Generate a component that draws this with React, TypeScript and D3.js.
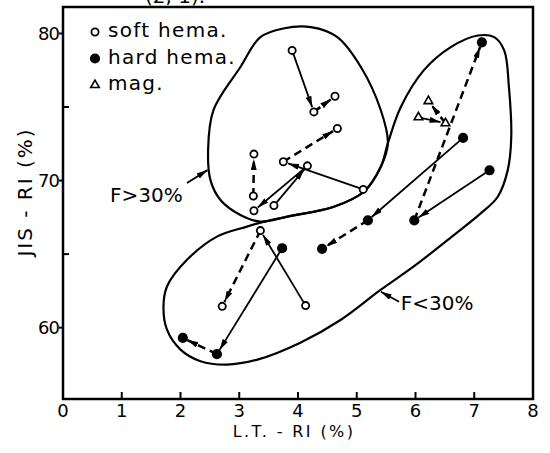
import React, { useEffect, useRef } from "react";
import * as d3 from "d3";

// point series (L.T.-RI %, JIS-RI %)
const softX = [3.9, 4.27, 4.63, 5.11, 3.75, 4.67, 3.59, 4.16, 3.25, 3.24, 3.25, 4.13, 3.36, 2.71];
const softY = [78.85, 74.67, 75.73, 69.4, 71.28, 73.54, 68.3, 71.0, 67.95, 68.95, 71.8, 61.5, 66.6, 61.45];
const hardX = [3.73, 2.62, 2.04, 6.81, 5.19, 4.41, 7.26, 5.98, 7.13];
const hardY = [65.4, 58.2, 59.3, 72.9, 67.3, 65.36, 70.7, 67.3, 79.4];
const magX = [6.05, 6.51, 6.22];
const magY = [74.3, 73.9, 75.4];

// arrows: [series, from, to, dashed]
const arrows: [string, number, number, boolean][] = [
  ["soft", 0, 1, false], ["soft", 1, 2, true],
  ["soft", 3, 4, false], ["soft", 4, 5, true],
  ["soft", 6, 7, false], ["soft", 7, 8, false],
  ["soft", 9, 10, true],
  ["soft", 11, 12, false], ["soft", 12, 13, true],
  ["hard", 0, 1, false], ["hard", 1, 2, true],
  ["hard", 3, 4, false], ["hard", 4, 5, true],
  ["hard", 6, 7, false], ["hard", 7, 8, true],
  ["mag", 0, 1, false], ["mag", 1, 2, true],
];

// region outlines
const upperRegion: [number, number][] = [
  [4.22, 80.43], [4.67, 79.75], [5.07, 77.72], [5.41, 74.78], [5.53, 72.54],
  [5.41, 70.94], [5.12, 69.24], [4.61, 68.22], [3.82, 67.55], [3.36, 67.21],
  [3.02, 67.66], [2.68, 68.68], [2.51, 70.03], [2.47, 72.07], [2.56, 74.78],
  [3.02, 77.72], [3.36, 79.75], [3.75, 80.34],
];
const lowerRegion: [number, number][] = [
  [3.41, 67.19], [3.82, 67.55], [4.61, 68.22], [5.12, 69.24], [5.41, 70.94],
  [5.53, 72.54], [5.75, 75.0], [6.14, 77.49], [6.6, 79.07], [7.06, 79.86],
  [7.34, 79.75], [7.51, 78.85], [7.59, 76.36], [7.63, 72.97], [7.57, 70.71],
  [7.4, 68.9], [7.12, 67.8], [6.55, 65.97], [5.97, 64.16], [5.41, 62.58],
  [4.73, 60.54], [4.04, 58.98], [3.31, 57.83], [2.79, 57.49], [2.34, 57.72],
  [2.0, 58.51], [1.77, 59.86], [1.71, 61.44], [1.77, 62.8], [2.11, 64.61],
  [2.62, 66.19], [3.13, 66.87],
];

const xTicks = [0, 1, 2, 3, 4, 5, 6, 7, 8];
const yMajor = [60, 70, 80];
const yMinor = [65, 75];
const legendLabels = ["soft hema.", "hard hema.", "mag."];

const FONT = "'DejaVu Sans', sans-serif";

export default function App() {
  const ref = useRef<SVGSVGElement>(null);

  useEffect(() => {
    const svg = d3.select(ref.current);
    svg.selectAll("*").remove();

    const x = d3.scaleLinear().domain([0, 8]).range([63, 533]);
    const y = d3.scaleLinear().domain([55.15, 81.8]).range([399, 7]);

    svg
      .append("defs")
      .append("marker")
      .attr("id", "ah")
      .attr("viewBox", "0 0 11 6")
      .attr("refX", 11)
      .attr("refY", 3)
      .attr("markerWidth", 11)
      .attr("markerHeight", 6)
      .attr("markerUnits", "userSpaceOnUse")
      .attr("orient", "auto")
      .append("path")
      .attr("d", "M0,0 L11,3 L0,6 Z")
      .attr("fill", "#000");

    // clipped caption remnant at the top of the scan
    svg
      .append("text")
      .attr("x", 145)
      .attr("y", 3)
      .style("font-family", FONT)
      .style("font-size", "20px")
      .text("(2, 1).");

    // frame
    svg
      .append("rect")
      .attr("x", x(0))
      .attr("y", y(81.8))
      .attr("width", x(8) - x(0))
      .attr("height", y(55.15) - y(81.8))
      .attr("fill", "none")
      .attr("stroke", "#000")
      .attr("stroke-width", 2.5);

    // x ticks
    svg
      .selectAll(".xt")
      .data(xTicks.slice(1, -1))
      .join("line")
      .attr("x1", (d) => x(d))
      .attr("x2", (d) => x(d))
      .attr("y1", y(55.15))
      .attr("y2", y(55.15) - 7)
      .attr("stroke", "#000")
      .attr("stroke-width", 2);
    svg
      .selectAll(".xl")
      .data(xTicks)
      .join("text")
      .attr("x", (d) => x(d))
      .attr("y", 417)
      .attr("text-anchor", "middle")
      .style("font-family", FONT)
      .style("font-size", "18px")
      .text((d) => d);

    // y ticks
    svg
      .selectAll(".yt")
      .data(yMajor)
      .join("line")
      .attr("x1", x(0) - 4)
      .attr("x2", x(0))
      .attr("y1", (d) => y(d))
      .attr("y2", (d) => y(d))
      .attr("stroke", "#000")
      .attr("stroke-width", 2);
    svg
      .selectAll(".ym")
      .data(yMinor)
      .join("line")
      .attr("x1", x(0))
      .attr("x2", x(0) + 6)
      .attr("y1", (d) => y(d))
      .attr("y2", (d) => y(d))
      .attr("stroke", "#000")
      .attr("stroke-width", 2);
    svg
      .selectAll(".yl")
      .data(yMajor)
      .join("text")
      .attr("x", x(0) - 4)
      .attr("y", (d) => y(d) + 6.5)
      .attr("text-anchor", "end")
      .style("font-family", FONT)
      .style("font-size", "18px")
      .style("letter-spacing", "-1px")
      .text((d) => d);

    // axis titles
    svg
      .append("text")
      .attr("x", 294)
      .attr("y", 437)
      .attr("text-anchor", "middle")
      .style("font-family", FONT)
      .style("font-size", "16px")
      .style("letter-spacing", "2.4px")
      .text("L.T. - RI (%)");
    svg
      .append("text")
      .attr("transform", "translate(32,192) rotate(-90)")
      .attr("text-anchor", "middle")
      .style("font-family", FONT)
      .style("font-size", "20px")
      .style("letter-spacing", "2px")
      .text("JIS - RI (%)");

    // region outlines
    const outline = d3
      .line<[number, number]>()
      .x((d) => x(d[0]))
      .y((d) => y(d[1]))
      .curve(d3.curveCatmullRomClosed.alpha(0.5));
    [upperRegion, lowerRegion].forEach((r) =>
      svg
        .append("path")
        .attr("d", outline(r))
        .attr("fill", "none")
        .attr("stroke", "#000")
        .attr("stroke-width", 2.2)
    );

    // region annotations
    const notes = [
      { label: "F>30%", tx: 0.8, ty: 68.54, from: [2.11, 69.83], to: [2.46, 70.71] },
      { label: "F<30%", tx: 5.75, ty: 61.22, from: [5.72, 61.76], to: [5.41, 62.44] },
    ];
    notes.forEach((n) => {
      svg
        .append("line")
        .attr("x1", x(n.from[0]))
        .attr("y1", y(n.from[1]))
        .attr("x2", x(n.to[0]))
        .attr("y2", y(n.to[1]))
        .attr("stroke", "#000")
        .attr("stroke-width", 1.8)
        .attr("marker-end", "url(#ah)");
      svg
        .append("text")
        .attr("x", x(n.tx))
        .attr("y", y(n.ty))
        .style("font-family", FONT)
        .style("font-size", "20px")
        .text(n.label);
    });

    const series: Record<string, { xs: number[]; ys: number[] }> = {
      soft: { xs: softX, ys: softY },
      hard: { xs: hardX, ys: hardY },
      mag: { xs: magX, ys: magY },
    };

    // arrows between paired measurements
    arrows.forEach(([s, a, b, dashed]) => {
      const { xs, ys } = series[s];
      const x1 = x(xs[a]);
      const y1 = y(ys[a]);
      const x2 = x(xs[b]);
      const y2 = y(ys[b]);
      const len = Math.hypot(x2 - x1, y2 - y1);
      const cut = 5;
      const ex = x2 - ((x2 - x1) / len) * cut;
      const ey = y2 - ((y2 - y1) / len) * cut;
      svg
        .append("line")
        .attr("x1", x1)
        .attr("y1", y1)
        .attr("x2", ex)
        .attr("y2", ey)
        .attr("stroke", "#000")
        .attr("stroke-width", dashed ? 2.5 : 1.8)
        .attr("stroke-dasharray", dashed ? "8,5" : null)
        .attr("marker-end", "url(#ah)");
    });

    // markers
    const drawCircle = (g: any, cx: number, cy: number, filled: boolean) =>
      g
        .append("circle")
        .attr("cx", cx)
        .attr("cy", cy)
        .attr("r", filled ? 4.2 : 3.6)
        .attr("fill", filled ? "#000" : "#fff")
        .attr("stroke", "#000")
        .attr("stroke-width", 1.8);
    const tri = d3.symbol().type(d3.symbolTriangle).size(32);
    const drawTri = (g: any, cx: number, cy: number) =>
      g
        .append("path")
        .attr("d", tri())
        .attr("transform", `translate(${cx},${cy})`)
        .attr("fill", "#fff")
        .attr("stroke", "#000")
        .attr("stroke-width", 1.6);

    softX.forEach((v, i) => drawCircle(svg, x(v), y(softY[i]), false));
    hardX.forEach((v, i) => drawCircle(svg, x(v), y(hardY[i]), true));
    magX.forEach((v, i) => drawTri(svg, x(v), y(magY[i])));

    // legend
    legendLabels.forEach((label, i) => {
      const ly = 37 + i * 26.5;
      if (i === 0) drawCircle(svg, 95, ly - 5, false);
      if (i === 1) drawCircle(svg, 95, ly - 5, true);
      if (i === 2) drawTri(svg, 95, ly - 5);
      svg
        .append("text")
        .attr("x", 108)
        .attr("y", ly)
        .style("font-family", FONT)
        .style("font-size", "20px")
        .style("letter-spacing", "1.3px")
        .text(label);
    });
  }, []);

  return (
    <svg
      ref={ref}
      width={550}
      height={453}
      style={{ position: "absolute", left: 0, top: 0, background: "#fff" }}
    />
  );
}
